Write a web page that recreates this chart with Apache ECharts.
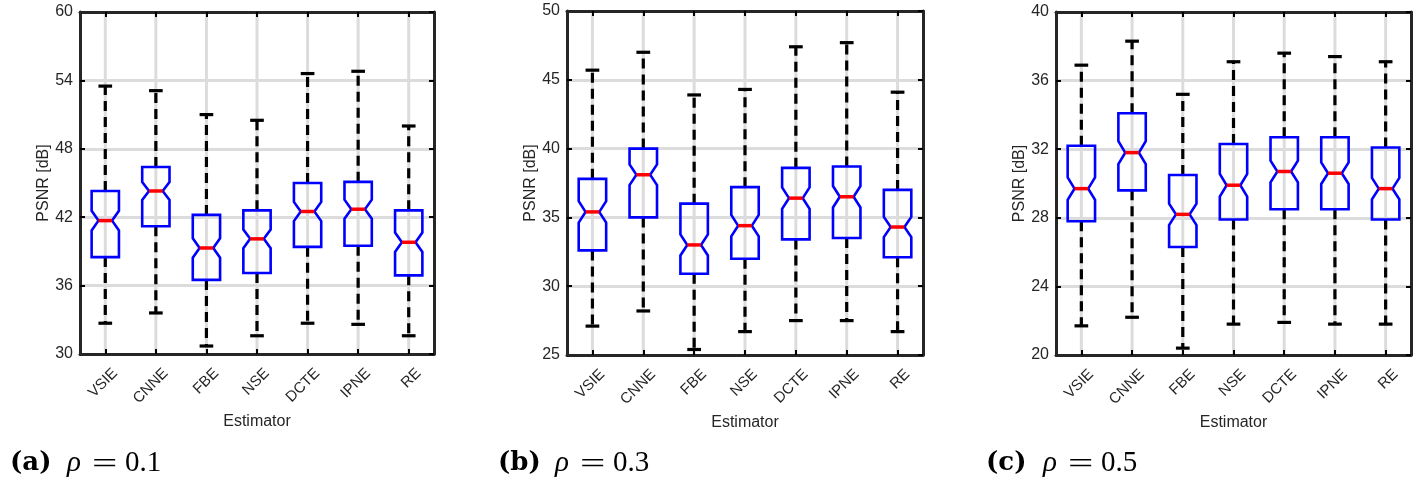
<!DOCTYPE html>
<html>
<head>
<meta charset="UTF-8">
<title>PSNR boxplots</title>
<style type="text/css">
html, body {
	margin: 0;
	padding: 0;
	background: #ffffff;
}
#main {
	width: 1418px;
	height: 480px;
}
</style>
</head>
<body>
	<div id="main"></div>
</body>
<script type="text/javascript" src="https://cdn.jsdelivr.net/npm/echarts/dist/echarts.min.js"></script>
<script type="text/javascript">
	// estimators on the x axis
	var categories = [ "VSIE", "CNNE", "FBE", "NSE", "DCTE", "IPNE", "RE" ];

	// (a) rho = 0.1 : whisker low, q1, median, q3, whisker high
	var lowA = [ 32.7, 33.6, 30.7, 31.6, 32.7, 32.6, 31.6 ];
	var q1A = [ 38.5, 41.2, 36.5, 37.1, 39.4, 39.5, 36.9 ];
	var medA = [ 41.7, 44.3, 39.3, 40.1, 42.5, 42.7, 39.8 ];
	var q3A = [ 44.3, 46.4, 42.2, 42.6, 45.0, 45.1, 42.6 ];
	var highA = [ 53.5, 53.1, 51.0, 50.5, 54.6, 54.8, 50.0 ];

	// (b) rho = 0.3
	var lowB = [ 27.1, 28.2, 25.4, 26.7, 27.5, 27.5, 26.7 ];
	var q1B = [ 32.6, 35.0, 30.9, 32.0, 33.4, 33.5, 32.1 ];
	var medB = [ 35.4, 38.1, 33.0, 34.4, 36.4, 36.5, 34.3 ];
	var q3B = [ 37.8, 40.0, 36.0, 37.2, 38.6, 38.7, 37.0 ];
	var highB = [ 45.7, 47.0, 43.9, 44.3, 47.4, 47.7, 44.1 ];

	// (c) rho = 0.5
	var lowC = [ 21.7, 22.2, 20.4, 21.8, 21.9, 21.8, 21.8 ];
	var q1C = [ 27.8, 29.6, 26.3, 27.9, 28.5, 28.5, 27.9 ];
	var medC = [ 29.7, 31.8, 28.2, 29.9, 30.7, 30.6, 29.7 ];
	var q3C = [ 32.2, 34.1, 30.5, 32.3, 32.7, 32.7, 32.1 ];
	var highC = [ 36.9, 38.3, 35.2, 37.1, 37.6, 37.4, 37.1 ];

	// y axis ranges [min, max, step]
	var rangeA = [ 30, 60, 6 ];
	var rangeB = [ 25, 50, 5 ];
	var rangeC = [ 20, 40, 4 ];

	// captions under each panel
	var captions = [ [ "(a)", "0.1" ], [ "(b)", "0.3" ], [ "(c)", "0.5" ] ];

	var frameColor = "#262626";
	var gridColor = "#dcdcdc";
	var sans = "Liberation Sans";

	// notch half height, matlab style 1.57*IQR/sqrt(n)
	var nSamples = 110;

	var chart = echarts.init(document.getElementById("main"));

	var grids = [ {
		left : 80,
		top : 12,
		width : 354,
		height : 342
	}, {
		left : 567,
		top : 11,
		width : 356,
		height : 344
	}, {
		left : 1056,
		top : 12,
		width : 355,
		height : 343
	} ];

	var xAxes = [];
	var yAxes = [];
	var series = [];

	var frameLine = {
		show : true,
		lineStyle : {
			color : frameColor,
			width : 3
		}
	};
	var innerTick = {
		show : true,
		alignWithLabel : true,
		inside : true,
		length : 5,
		lineStyle : {
			color : "#000",
			width : 2
		}
	};

	function addPanel(idx, low, q1, med, q3, high, range) {
		// bottom axis with labels
		xAxes.push({
			type : "category",
			gridIndex : idx,
			data : categories,
			position : "bottom",
			z : 5,
			name : "Estimator",
			nameLocation : "middle",
			nameGap : 60,
			nameMoveOverlap : false,
			nameTextStyle : {
				fontFamily : sans,
				fontSize : 16,
				color : frameColor
			},
			axisLine : frameLine,
			axisTick : innerTick,
			axisLabel : {
				rotate : 45,
				margin : 7,
				verticalAlign : "top",
				lineHeight : 28,
				fontFamily : sans,
				fontSize : 15,
				color : frameColor
			},
			splitLine : {
				show : false
			}
		});
		// top axis, frame only
		xAxes.push({
			type : "category",
			gridIndex : idx,
			data : categories,
			position : "top",
			z : 5,
			axisLine : frameLine,
			axisTick : innerTick,
			axisLabel : {
				show : false
			},
			splitLine : {
				show : false
			}
		});
		yAxes.push({
			type : "value",
			gridIndex : idx,
			min : range[0],
			max : range[1],
			interval : range[2],
			position : "left",
			name : "PSNR [dB]",
			nameLocation : "middle",
			nameGap : 28,
			nameMoveOverlap : false,
			nameTextStyle : {
				fontFamily : sans,
				fontSize : 16,
				color : frameColor
			},
			axisLine : frameLine,
			axisTick : innerTick,
			axisLabel : {
				margin : 7,
				fontFamily : sans,
				fontSize : 16,
				color : frameColor
			},
			splitLine : {
				show : true,
				lineStyle : {
					color : gridColor,
					width : 3
				}
			}
		});
		yAxes.push({
			type : "value",
			gridIndex : idx,
			min : range[0],
			max : range[1],
			interval : range[2],
			position : "right",
			z : 5,
			axisLine : frameLine,
			axisTick : innerTick,
			axisLabel : {
				show : false
			},
			splitLine : {
				show : false
			}
		});

		var data = [];
		for ( var j = 0; j < categories.length; j++) {
			data.push([ j, low[j], q1[j], med[j], q3[j], high[j] ]);
		}

		series.push({
			type : "custom",
			xAxisIndex : idx * 2,
			yAxisIndex : idx * 2,
			encode : {
				x : 0,
				y : [ 1, 2, 3, 4, 5 ]
			},
			data : data,
			renderItem : function(params, api) {
				var x = api.value(0);
				var vLow = api.value(1);
				var vQ1 = api.value(2);
				var vMed = api.value(3);
				var vQ3 = api.value(4);
				var vHigh = api.value(5);
				var notch = 1.57 * (vQ3 - vQ1) / Math.sqrt(nSamples);

				var cx = api.coord([ x, vMed ])[0];
				var yTop = api.coord([ x, range[1] ])[1];
				var yBot = api.coord([ x, range[0] ])[1];
				var yLow = api.coord([ x, vLow ])[1];
				var yQ1 = api.coord([ x, vQ1 ])[1];
				var yMed = api.coord([ x, vMed ])[1];
				var yQ3 = api.coord([ x, vQ3 ])[1];
				var yHigh = api.coord([ x, vHigh ])[1];
				var yNUp = api.coord([ x, vMed + notch ])[1];
				var yNDn = api.coord([ x, vMed - notch ])[1];

				var bw = api.size([ 1, 0 ])[0] * 0.54;
				var l = cx - bw / 2;
				var r = cx + bw / 2;
				var q = bw / 4;

				var dash = {
					stroke : "#000",
					lineWidth : 3.2,
					lineDash : [ 10, 6 ],
					fill : null
				};
				var solid = {
					stroke : "#000",
					lineWidth : 3.2
				};

				return {
					type : "group",
					children : [ {
						// vertical grid line
						type : "line",
						shape : {
							x1 : cx,
							y1 : yTop,
							x2 : cx,
							y2 : yBot
						},
						style : {
							stroke : gridColor,
							lineWidth : 3
						}
					}, {
						type : "line",
						shape : {
							x1 : cx,
							y1 : yQ3,
							x2 : cx,
							y2 : yHigh
						},
						style : dash
					}, {
						type : "line",
						shape : {
							x1 : cx,
							y1 : yQ1,
							x2 : cx,
							y2 : yLow
						},
						style : dash
					}, {
						type : "line",
						shape : {
							x1 : cx - q,
							y1 : yHigh,
							x2 : cx + q,
							y2 : yHigh
						},
						style : solid
					}, {
						type : "line",
						shape : {
							x1 : cx - q,
							y1 : yLow,
							x2 : cx + q,
							y2 : yLow
						},
						style : solid
					}, {
						// notched box, not filled so grid shows through
						type : "polygon",
						shape : {
							points : [ [ l, yQ3 ], [ r, yQ3 ], [ r, yNUp ],
									[ r - q, yMed ], [ r, yNDn ], [ r, yQ1 ],
									[ l, yQ1 ], [ l, yNDn ], [ l + q, yMed ],
									[ l, yNUp ] ]
						},
						style : {
							fill : null,
							stroke : "#0000ff",
							lineWidth : 2.6
						}
					}, {
						type : "line",
						shape : {
							x1 : l + q,
							y1 : yMed,
							x2 : r - q,
							y2 : yMed
						},
						style : {
							stroke : "#ff0000",
							lineWidth : 3.5
						}
					} ]
				};
			}
		});
	}

	addPanel(0, lowA, q1A, medA, q3A, highA, rangeA);
	addPanel(1, lowB, q1B, medB, q3B, highB, rangeB);
	addPanel(2, lowC, q1C, medC, q3C, highC, rangeC);

	// captions (a) rho = 0.1 etc
	var capX = [ 0, 488, 976 ];
	var graphics = [];
	for ( var k = 0; k < captions.length; k++) {
		var ox = capX[k];
		graphics.push({
			type : "text",
			x : ox + 10,
			y : 450,
			style : {
				text : captions[k][0],
				font : 'bold 26px "DejaVu Serif"',
				fill : "#000"
			}
		});
		graphics.push({
			type : "text",
			x : ox + 67,
			y : 449,
			style : {
				text : "\u03c1",
				font : 'italic 29px "Liberation Serif"',
				fill : "#000"
			}
		});
		graphics.push({
			type : "text",
			x : ox + 92,
			y : 451,
			scaleX : 1.55,
			style : {
				text : "=",
				font : '29px "Liberation Serif"',
				fill : "#000"
			}
		});
		graphics.push({
			type : "text",
			x : ox + 125,
			y : 449,
			style : {
				text : captions[k][1],
				font : '29px "Liberation Serif"',
				fill : "#000"
			}
		});
	}

	var option = {
		animation : false,
		backgroundColor : "#ffffff",
		grid : grids,
		xAxis : xAxes,
		yAxis : yAxes,
		series : series,
		graphic : graphics
	};
	chart.setOption(option);
</script>
</html>
